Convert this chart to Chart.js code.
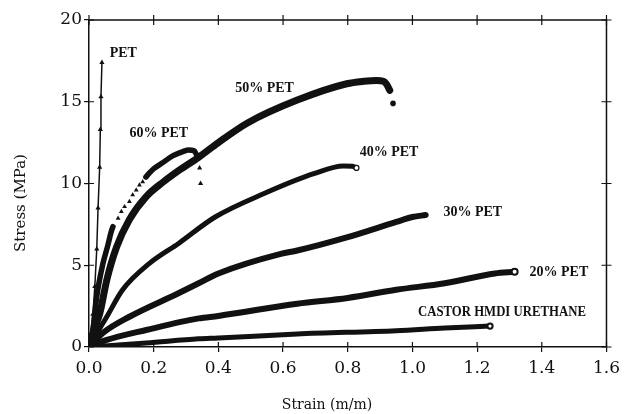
<!DOCTYPE html>
<html>
<head>
<meta charset="utf-8">
<script src="https://cdn.jsdelivr.net/npm/chart.js@4/dist/chart.umd.min.js"></script>
<style>
  html, body { margin: 0; padding: 0; background: #fff; }
  #wrap { width: 626px; height: 414px; }
</style>
</head>
<body>
<div id="wrap"><canvas id="c" width="626" height="414"></canvas></div>
<script>
// strain (m/m) / stress (MPa)
const petStrain = [0, 0.012, 0.018, 0.024, 0.028, 0.033, 0.035, 0.037, 0.04];
const petStress = [0, 2.0, 3.7, 6.0, 8.5, 11.0, 13.3, 15.3, 17.4];

const pet60Strain = [0, 0.012, 0.024, 0.043, 0.058, 0.068, 0.074, 0.09, 0.1, 0.11, 0.125, 0.135, 0.146, 0.156, 0.166, 0.176, 0.2, 0.226, 0.26, 0.29, 0.308, 0.325, 0.333];
const pet60Stress = [0, 1.0, 3.1, 5.1, 6.2, 7.0, 7.36, 7.87, 8.28, 8.58, 8.89, 9.3, 9.6, 9.9, 10.1, 10.4, 10.9, 11.25, 11.7, 11.95, 12.05, 12.0, 11.74];
const pet60BreakStrain = [0.342, 0.345];
const pet60BreakStress = [10.95, 10.0];

const pet50Strain = [0, 0.015, 0.034, 0.055, 0.085, 0.125, 0.177, 0.23, 0.278, 0.339, 0.4, 0.49, 0.644, 0.797, 0.85, 0.889, 0.91, 0.919, 0.93];
const pet50Stress = [0, 1.0, 2.1, 4.1, 6.1, 7.8, 9.2, 10.1, 10.8, 11.6, 12.5, 13.7, 15.1, 16.1, 16.25, 16.3, 16.25, 16.1, 15.7];
const pet50BreakStrain = [0.94];
const pet50BreakStress = [14.9];

const pet40Strain = [0, 0.02, 0.055, 0.104, 0.186, 0.278, 0.39, 0.543, 0.695, 0.787, 0.815, 0.827];
const pet40Stress = [0, 0.7, 1.85, 3.5, 5.1, 6.35, 7.95, 9.4, 10.6, 11.07, 11.05, 10.95];

const pet30Strain = [0, 0.043, 0.125, 0.278, 0.339, 0.4, 0.593, 0.644, 0.797, 0.95, 1.0, 1.041];
const pet30Stress = [0, 0.86, 1.85, 3.3, 3.9, 4.5, 5.7, 5.9, 6.7, 7.65, 7.95, 8.07];

const pet20Strain = [0, 0.055, 0.177, 0.339, 0.4, 0.644, 0.8, 0.95, 1.1, 1.255, 1.316];
const pet20Stress = [0, 0.43, 1.04, 1.75, 1.9, 2.65, 3.0, 3.5, 3.9, 4.5, 4.6];

const castorStrain = [0, 0.177, 0.339, 0.4, 0.644, 0.95, 1.1, 1.24];
const castorStress = [0, 0.24, 0.5, 0.55, 0.8, 1.0, 1.16, 1.28];

const xTicks = [0, 0.2, 0.4, 0.6, 0.8, 1.0, 1.2, 1.4, 1.6];
const yTicks = [0, 5, 10, 15, 20];

const curveLabels = ["PET", "60% PET", "50% PET", "40% PET", "30% PET", "20% PET", "CASTOR HMDI URETHANE"];
const labelAt = [[0.064, 17.98], [0.125, 13.09], [0.452, 15.84], [0.837, 11.9], [1.096, 8.26], [1.362, 4.59], [1.017, 2.14]];

const INK = "#111";

function pts(xs, ys) {
    return xs.map((x, i) => ({ x, y: ys[i] }));
}

// the upper part of the 60% curve only shows its triangle markers
const dotted = (x) => x > 0.072 && x < 0.178;

const datasets = [
    {
        label: "PET", data: pts(petStrain, petStress), showLine: true,
        borderColor: INK, borderWidth: 1.5, pointStyle: "triangle",
        pointRadius: 3, backgroundColor: INK, pointBorderWidth: 0,
    },
    {
        label: "60% PET", data: pts(pet60Strain, pet60Stress), showLine: true,
        borderColor: INK, borderWidth: 5.5, borderCapStyle: "round",
        cubicInterpolationMode: "monotone",
        pointStyle: "triangle", backgroundColor: INK, pointBorderWidth: 0,
        pointRadius: (c) => (c.raw && dotted(c.raw.x) ? 2.8 : 0),
        segment: {
            borderColor: (c) => (dotted(c.p0.parsed.x) && dotted(c.p1.parsed.x) ? "rgba(0,0,0,0)" : INK),
        },
    },
    {
        label: "60% PET break", data: pts(pet60BreakStrain, pet60BreakStress), showLine: false,
        pointStyle: "triangle", pointRadius: 3, backgroundColor: INK, borderWidth: 0,
    },
    {
        label: "50% PET", data: pts(pet50Strain, pet50Stress), showLine: true,
        borderColor: INK, borderWidth: 7, borderCapStyle: "round", borderJoinStyle: "round",
        cubicInterpolationMode: "monotone", pointRadius: 0,
    },
    {
        label: "50% PET break", data: pts(pet50BreakStrain, pet50BreakStress), showLine: false,
        pointStyle: "circle", pointRadius: 2.8, backgroundColor: INK, borderWidth: 0,
    },
    {
        label: "40% PET", data: pts(pet40Strain, pet40Stress), showLine: true,
        borderColor: INK, borderWidth: 5, borderCapStyle: "butt",
        cubicInterpolationMode: "monotone",
        pointRadius: (c) => (c.dataIndex === pet40Strain.length - 1 ? 2.5 : 0),
        pointBackgroundColor: "#fff", pointBorderColor: INK, pointBorderWidth: 1.2,
    },
    {
        label: "30% PET", data: pts(pet30Strain, pet30Stress), showLine: true,
        borderColor: INK, borderWidth: 6, borderCapStyle: "round",
        cubicInterpolationMode: "monotone", pointRadius: 0,
    },
    {
        label: "20% PET", data: pts(pet20Strain, pet20Stress), showLine: true,
        borderColor: INK, borderWidth: 6, borderCapStyle: "butt",
        cubicInterpolationMode: "monotone",
        pointRadius: (c) => (c.dataIndex === pet20Strain.length - 1 ? 3 : 0),
        pointBackgroundColor: "#fff", pointBorderColor: INK, pointBorderWidth: 2,
    },
    {
        label: "CASTOR HMDI URETHANE", data: pts(castorStrain, castorStress), showLine: true,
        borderColor: INK, borderWidth: 5, borderCapStyle: "butt",
        cubicInterpolationMode: "monotone",
        pointRadius: (c) => (c.dataIndex === castorStrain.length - 1 ? 2.6 : 0),
        pointBackgroundColor: "#fff", pointBorderColor: INK, pointBorderWidth: 2,
    },
];

// frame: inner tick marks, top and right axes, curve labels, axis titles
const decor = {
    id: "decor",
    afterDraw(chart) {
        const { ctx, chartArea: a, scales } = chart;
        const xs = scales.x, ys = scales.y;
        ctx.save();
        ctx.strokeStyle = INK;
        ctx.lineWidth = 1.5;
        ctx.beginPath();
        ctx.moveTo(a.left, a.top);
        ctx.lineTo(a.right, a.top);
        ctx.lineTo(a.right, a.bottom);
        ctx.stroke();
        ctx.lineWidth = 1.2;
        ctx.beginPath();
        xs.ticks.forEach((t) => {
            const px = xs.getPixelForValue(t.value);
            ctx.moveTo(px, a.bottom); ctx.lineTo(px, a.bottom - 5);
            ctx.moveTo(px, a.top - 5); ctx.lineTo(px, a.top + 5);
        });
        ys.ticks.forEach((t) => {
            const py = ys.getPixelForValue(t.value);
            ctx.moveTo(a.left, py); ctx.lineTo(a.left + 5, py);
            ctx.moveTo(a.right - 5, py); ctx.lineTo(a.right + 5, py);
        });
        ctx.stroke();

        ctx.fillStyle = INK;
        ctx.font = "bold 14px 'Liberation Serif', serif";
        ctx.textBaseline = "middle";
        ctx.textAlign = "left";
        curveLabels.forEach((txt, i) => {
            const [sx, sy] = labelAt[i];
            const w = txt.length > 10 ? 168 : undefined;
            ctx.fillText(txt, xs.getPixelForValue(sx), ys.getPixelForValue(sy), w);
        });

        ctx.font = "14px 'DejaVu Serif', serif";
        ctx.textAlign = "center";
        ctx.fillText("Strain (m/m)", 327, 405);
        ctx.translate(21, 203);
        ctx.rotate(-Math.PI / 2);
        ctx.font = "15px 'DejaVu Serif', serif";
        ctx.fillText("Stress (MPa)", 0, 0);
        ctx.restore();
    },
};

new Chart(document.getElementById("c"), {
    type: "scatter",
    data: { datasets },
    options: {
        responsive: false,
        animation: false,
        events: [],
        layout: { padding: { left: 0, top: 20, right: 13, bottom: 0 } },
        plugins: { legend: { display: false }, tooltip: { enabled: false } },
        scales: {
            x: {
                type: "linear", min: 0, max: 1.6,
                afterBuildTicks: (s) => { s.ticks = xTicks.map((v) => ({ value: v })); },
                afterFit: (s) => { s.height = 67; },
                grid: { drawOnChartArea: false, tickLength: 5, color: INK, lineWidth: 1.2 },
                border: { color: INK, width: 1.5 },
                ticks: {
                    color: INK, padding: 6, maxRotation: 0,
                    font: { family: "'DejaVu Serif', serif", size: 17 },
                    callback: (v) => Number(v).toFixed(1),
                },
            },
            y: {
                type: "linear", min: 0, max: 20,
                afterBuildTicks: (s) => { s.ticks = yTicks.map((v) => ({ value: v })); },
                afterFit: (s) => { s.width = 89; },
                grid: { drawOnChartArea: false, tickLength: 5, color: INK, lineWidth: 1.2 },
                border: { color: INK, width: 1.5 },
                ticks: {
                    color: INK, padding: 2,
                    font: { family: "'DejaVu Serif', serif", size: 17 },
                },
            },
        },
    },
    plugins: [decor],
});
</script>
</body>
</html>
